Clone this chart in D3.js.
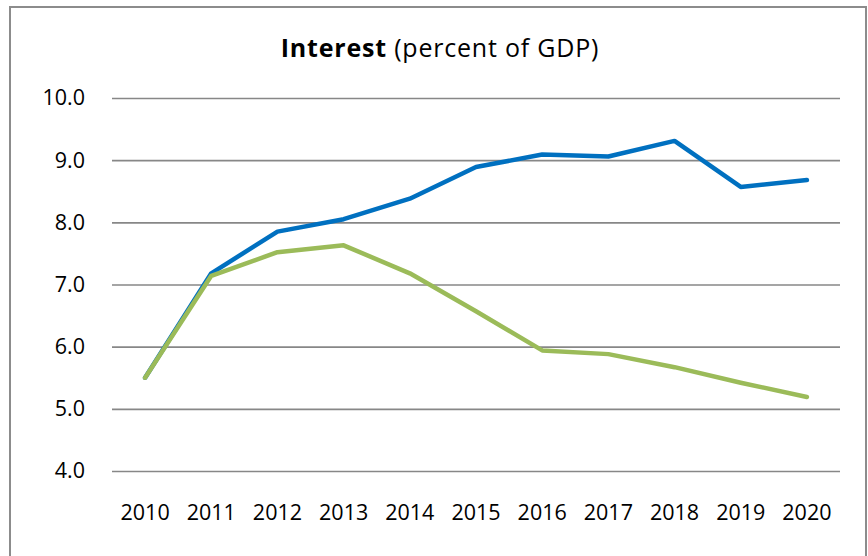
<!DOCTYPE html>
<html><head><meta charset="utf-8">
<script src="https://cdn.jsdelivr.net/npm/d3@7"></script>
<style>body{margin:0;background:#fff}svg{display:block}</style>
</head><body>
<script>
const years = ["2010","2011","2012","2013","2014","2015","2016","2017","2018","2019","2020"];
const seriesBlue = [5.50,7.18,7.85,8.05,8.38,8.89,9.09,9.06,9.31,8.57,8.68];
const seriesGreen = [5.50,7.14,7.52,7.63,7.18,6.57,5.94,5.88,5.67,5.42,5.19];
const yTicks = [4,5,6,7,8,9,10];

const W=868,H=556;
const svg=d3.select("body").append("svg").attr("width",W).attr("height",H);
svg.append("rect").attr("x",10).attr("y",7).attr("width",856).attr("height",560)
  .attr("fill","#fff").attr("stroke","#8c8c8c").attr("stroke-width",2);

const font="'Open Sans', sans-serif";
const x=d3.scaleBand().domain(years).range([112,840]);
const y=d3.scaleLinear().domain([4,10]).range([471,98]);

const t=svg.append("text").attr("x",440).attr("y",57).attr("text-anchor","middle")
  .attr("font-family",font).attr("font-size",25).attr("letter-spacing",0.8).attr("fill","#000");
t.append("tspan").attr("font-weight","bold").text("Interest");
t.append("tspan").text(" (percent of GDP)");

const ya=svg.append("g").attr("transform","translate(112,0)")
  .call(d3.axisLeft(y).tickValues(yTicks).tickFormat(d3.format(".1f")).tickSize(-728).tickPadding(27));
ya.select(".domain").remove();
ya.selectAll("line").attr("stroke","#878787").attr("stroke-width",1.6);
ya.selectAll("text").attr("font-family",font).attr("font-size",21.5).attr("fill","#000");

const xa=svg.append("g").attr("transform","translate(0,471)")
  .call(d3.axisBottom(x).tickSize(0).tickPadding(34));
xa.select(".domain").remove();
xa.selectAll("text").attr("font-family",font).attr("font-size",21.5).attr("fill","#000");

const line=d3.line().x((d,i)=>x(years[i])+x.bandwidth()/2).y(d=>y(d));
svg.append("path").datum(seriesBlue).attr("d",line).attr("fill","none")
  .attr("stroke","#0070C0").attr("stroke-width",4.5).attr("stroke-linecap","round").attr("stroke-linejoin","round");
svg.append("path").datum(seriesGreen).attr("d",line).attr("fill","none")
  .attr("stroke","#9BBB59").attr("stroke-width",4.5).attr("stroke-linecap","round").attr("stroke-linejoin","round");
</script>
</body></html>
